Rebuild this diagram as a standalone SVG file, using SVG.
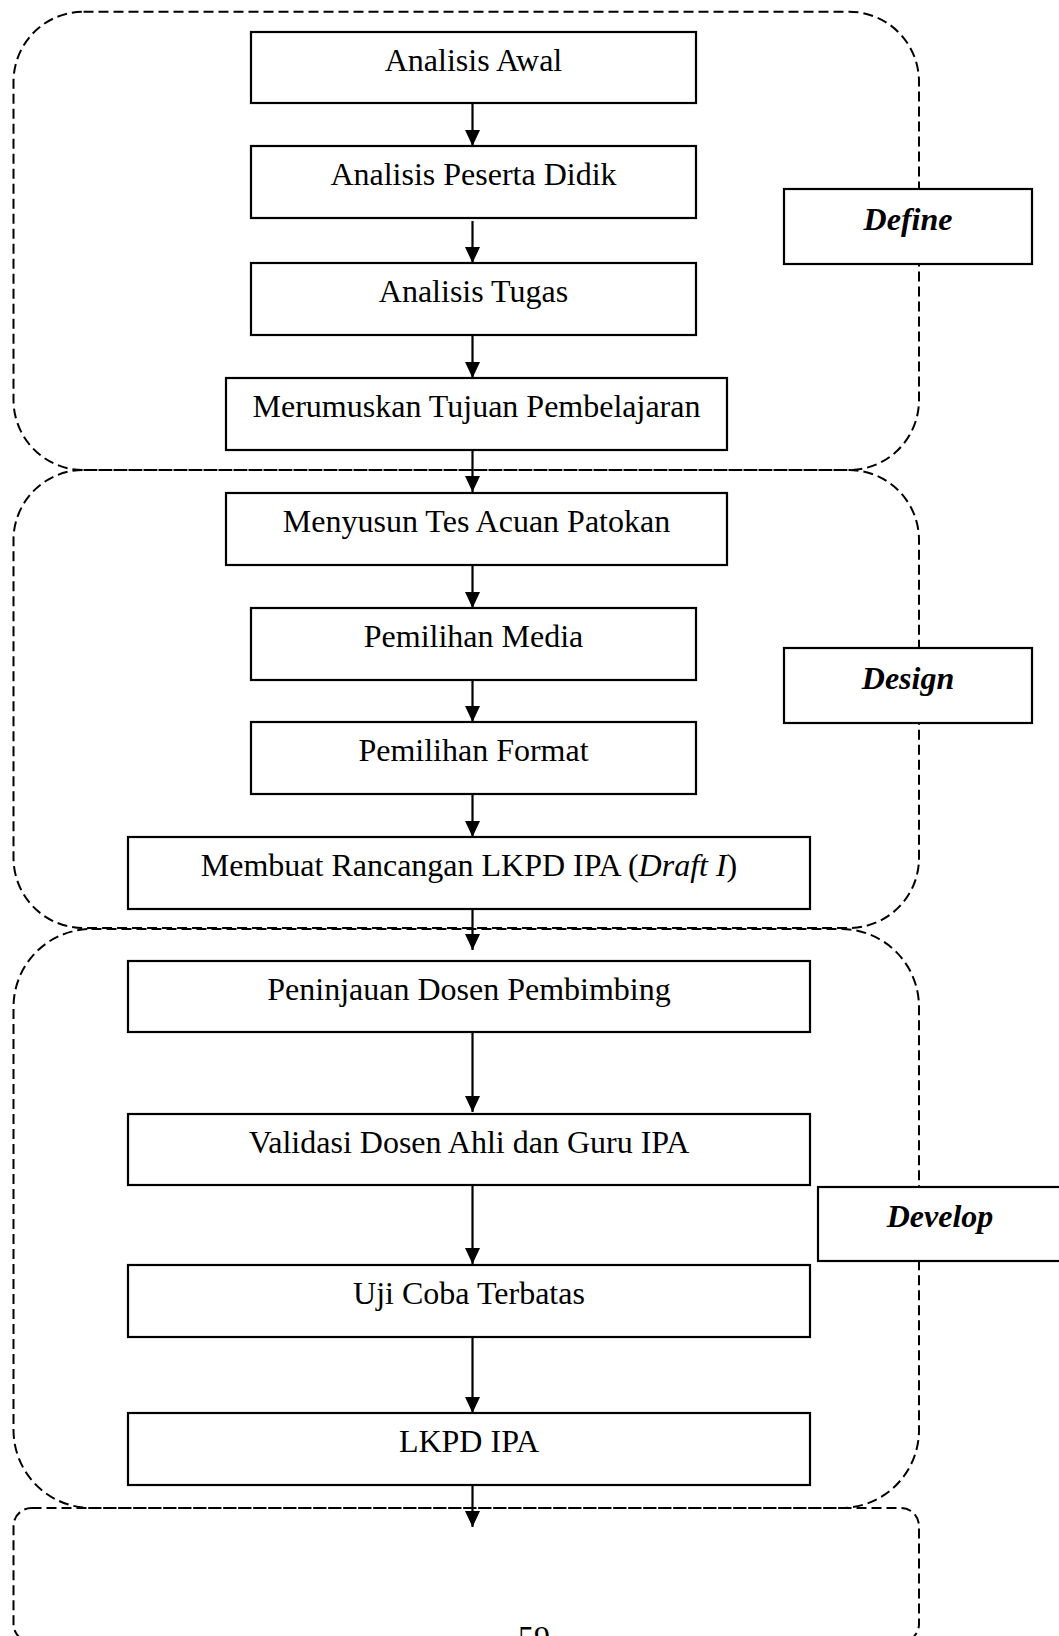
<svg xmlns="http://www.w3.org/2000/svg" width="1059" height="1636" viewBox="0 0 1059 1636">
  <defs>
    <marker id="arrow" viewBox="0 0 16 15" refX="16" refY="7.5" markerWidth="16" markerHeight="15" markerUnits="userSpaceOnUse" orient="auto">
      <path d="M0,0 L16,7.5 L0,15 Z" fill="#000"/>
    </marker>
    <style>
      .phase { fill: none; stroke: #000; stroke-width: 2; stroke-dasharray: 10 5; }
      .box { fill: #fff; stroke: #000; stroke-width: 2.2; }
      .label { fill: #fff; stroke: #000; stroke-width: 2.2; }
      .t { font-family: "Liberation Serif", "Times New Roman", serif; font-size: 32px; fill: #000; text-anchor: middle; }
      .tl { font-family: "Liberation Serif", "Times New Roman", serif; font-size: 32px; font-weight: bold; font-style: italic; fill: #000; text-anchor: middle; }
      .edge { stroke: #000; stroke-width: 2.2; fill: none; marker-end: url(#arrow); }
    </style>
  </defs>
  <rect width="1059" height="1636" fill="#fff"/>

  <!-- phase frames (dashed rounded rectangles) -->
  <g id="phases">
    <rect id="phase-define" class="phase" x="13.5" y="11.7" width="905.5" height="458.3" rx="70" ry="70"/>
    <rect id="phase-design" class="phase" x="13.5" y="470" width="905.5" height="458" rx="70" ry="70"/>
    <rect id="phase-develop" class="phase" x="13.5" y="929" width="905.5" height="579" rx="78" ry="78"/>
    <rect id="phase-next" class="phase" x="13.5" y="1508" width="905.5" height="134" rx="18" ry="18"/>
  </g>

  <!-- phase labels -->
  <g id="label-define">
    <rect class="label" x="784" y="189" width="248" height="75"/>
    <text class="tl" x="908" y="230">Define</text>
  </g>
  <g id="label-design">
    <rect class="label" x="784" y="648" width="248" height="75"/>
    <text class="tl" x="908" y="689">Design</text>
  </g>
  <g id="label-develop">
    <rect class="label" x="818" y="1187" width="248" height="74"/>
    <text class="tl" x="940" y="1227">Develop</text>
  </g>

  <!-- connectors -->
  <g id="connectors">
    <line class="edge" x1="472.5" y1="103" x2="472.5" y2="146"/>
    <line class="edge" x1="472.5" y1="221" x2="472.5" y2="263"/>
    <line class="edge" x1="472.5" y1="335" x2="472.5" y2="378"/>
    <line class="edge" x1="472.5" y1="450" x2="472.5" y2="492"/>
    <line class="edge" x1="472.5" y1="565" x2="472.5" y2="608"/>
    <line class="edge" x1="472.5" y1="680" x2="472.5" y2="722"/>
    <line class="edge" x1="472.5" y1="794" x2="472.5" y2="837"/>
    <line class="edge" x1="472.5" y1="909" x2="472.5" y2="950"/>
    <line class="edge" x1="472.5" y1="1032" x2="472.5" y2="1112"/>
    <line class="edge" x1="472.5" y1="1185" x2="472.5" y2="1264"/>
    <line class="edge" x1="472.5" y1="1337" x2="472.5" y2="1413"/>
    <line class="edge" x1="472.5" y1="1485" x2="472.5" y2="1527"/>
  </g>

  <!-- process steps -->
  <g id="analisis-awal">
    <rect class="box" x="251" y="32" width="445" height="71"/>
    <text class="t" x="473.5" y="71">Analisis Awal</text>
  </g>
  <g id="analisis-peserta-didik">
    <rect class="box" x="251" y="146" width="445" height="72"/>
    <text class="t" x="473.5" y="185">Analisis Peserta Didik</text>
  </g>
  <g id="analisis-tugas">
    <rect class="box" x="251" y="263" width="445" height="72"/>
    <text class="t" x="473.5" y="302">Analisis Tugas</text>
  </g>
  <g id="merumuskan-tujuan">
    <rect class="box" x="226" y="378" width="501" height="72"/>
    <text class="t" x="476.5" y="417">Merumuskan Tujuan Pembelajaran</text>
  </g>
  <g id="menyusun-tes">
    <rect class="box" x="226" y="493" width="501" height="72"/>
    <text class="t" x="476.5" y="532">Menyusun Tes Acuan Patokan</text>
  </g>
  <g id="pemilihan-media">
    <rect class="box" x="251" y="608" width="445" height="72"/>
    <text class="t" x="473.5" y="647">Pemilihan Media</text>
  </g>
  <g id="pemilihan-format">
    <rect class="box" x="251" y="722" width="445" height="72"/>
    <text class="t" x="473.5" y="761">Pemilihan Format</text>
  </g>
  <g id="membuat-rancangan">
    <rect class="box" x="128" y="837" width="682" height="72"/>
    <text class="t" x="469" y="876">Membuat Rancangan LKPD IPA (<tspan font-style="italic">Draft I</tspan>)</text>
  </g>
  <g id="peninjauan-dosen">
    <rect class="box" x="128" y="961" width="682" height="71"/>
    <text class="t" x="469" y="1000">Peninjauan Dosen Pembimbing</text>
  </g>
  <g id="validasi">
    <rect class="box" x="128" y="1114" width="682" height="71"/>
    <text class="t" x="469" y="1153">Validasi Dosen Ahli dan Guru IPA</text>
  </g>
  <g id="uji-coba">
    <rect class="box" x="128" y="1265" width="682" height="72"/>
    <text class="t" x="469" y="1304">Uji Coba Terbatas</text>
  </g>
  <g id="lkpd-ipa">
    <rect class="box" x="128" y="1413" width="682" height="72"/>
    <text class="t" x="469" y="1452">LKPD IPA</text>
  </g>

  <!-- page number, running off the bottom edge -->
  <text class="t" x="534" y="1648">59</text>
</svg>
